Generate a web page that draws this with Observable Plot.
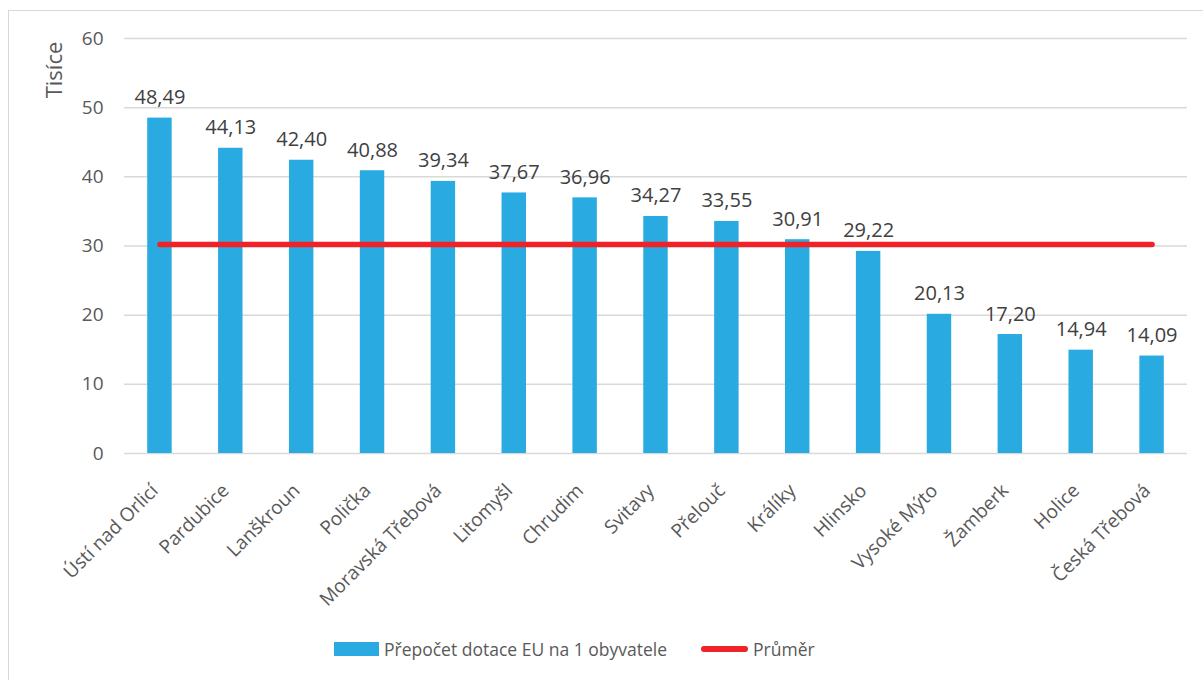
<!DOCTYPE html>
<html>
<head>
<meta charset="utf-8">
<script src="https://cdn.jsdelivr.net/npm/d3@7"></script>
<script src="https://cdn.jsdelivr.net/npm/@observablehq/plot@0.6"></script>
<style>
  html, body { margin: 0; background: #fff; overflow: hidden; font-family: "Open Sans", sans-serif; }
  #frame { position: absolute; left: 8px; top: 10px; width: 1210px; height: 700px; border: 1.5px solid #d9d9d9; box-sizing: border-box; }
  #chart { position: absolute; left: 0; top: 0; }
  #legend { position: absolute; top: 637px; left: 334px; display: flex; align-items: center; font-size: 17.5px; color: #595959; white-space: nowrap; }
  .sw-bar { display: inline-block; width: 45px; height: 14px; background: #29abe2; margin-right: 5px; }
  .sw-line { display: inline-block; width: 47px; height: 5.5px; background: #ee2227; border-radius: 3px; margin-right: 5px; margin-left: 34px; }
</style>
</head>
<body>
<div id="frame"></div>
<div id="chart"></div>
<div id="legend">
  <span class="sw-bar"></span><span id="lg1"></span>
  <span class="sw-line"></span><span id="lg2"></span>
</div>
<script>
const cities = ["Ústí nad Orlicí","Pardubice","Lanškroun","Polička","Moravská Třebová","Litomyšl","Chrudim","Svitavy","Přelouč","Králíky","Hlinsko","Vysoké Mýto","Žamberk","Holice","Česká Třebová"];
const values = [48.49,44.13,42.40,40.88,39.34,37.67,36.96,34.27,33.55,30.91,29.22,20.13,17.20,14.94,14.09];
const average = 30.2;
const yTicks = [0,10,20,30,40,50,60];
const seriesBar = "Přepočet dotace EU na 1 obyvatele";
const seriesLine = "Průměr";
const yTitle = "Tisíce";

const data = cities.map((c, i) => ({city: c, value: values[i]}));
const avgData = cities.map(c => ({city: c, avg: average}));
const fmt = v => v.toFixed(2).replace(".", ",");

const plot = Plot.plot({
  width: 1203,
  height: 630,
  marginLeft: 124,
  marginRight: 16,
  marginTop: 38,
  marginBottom: 177,
  style: {fontFamily: "'Open Sans', sans-serif", fontSize: "19px", color: "#595959", background: "transparent"},
  x: {domain: cities, paddingInner: 0.655, paddingOuter: 0.3275, round: false, label: null},
  y: {domain: [0, 60], ticks: yTicks, label: null, tickSize: 0, tickPadding: 21, grid: false, fontSize: 20},
  marks: [
    Plot.gridY(yTicks, {stroke: "#d9d9d9", strokeOpacity: 1, strokeWidth: 1.5}),
    Plot.axisX({tickRotate: -45, tickSize: 0, tickPadding: 34, dx: -5, fontSize: 19, label: null}),
    Plot.barY(data, {x: "city", y: "value", fill: "#29abe2"}),
    Plot.text(data, {x: "city", y: "value", text: d => fmt(d.value), lineAnchor: "bottom", dy: -14, fill: "#404040", fontSize: 20}),
    Plot.lineY(avgData, {x: "city", y: "avg", stroke: "#ee2227", strokeWidth: 5.5, strokeLinecap: "round"})
  ]
});
document.getElementById("chart").appendChild(plot);
d3.select(plot).append("text")
  .attr("transform", "translate(62,70) rotate(-90)")
  .attr("text-anchor", "middle")
  .attr("font-size", 22)
  .attr("fill", "#595959")
  .text(yTitle);
document.getElementById("lg1").textContent = seriesBar;
document.getElementById("lg2").textContent = seriesLine;
</script>
</body>
</html>
